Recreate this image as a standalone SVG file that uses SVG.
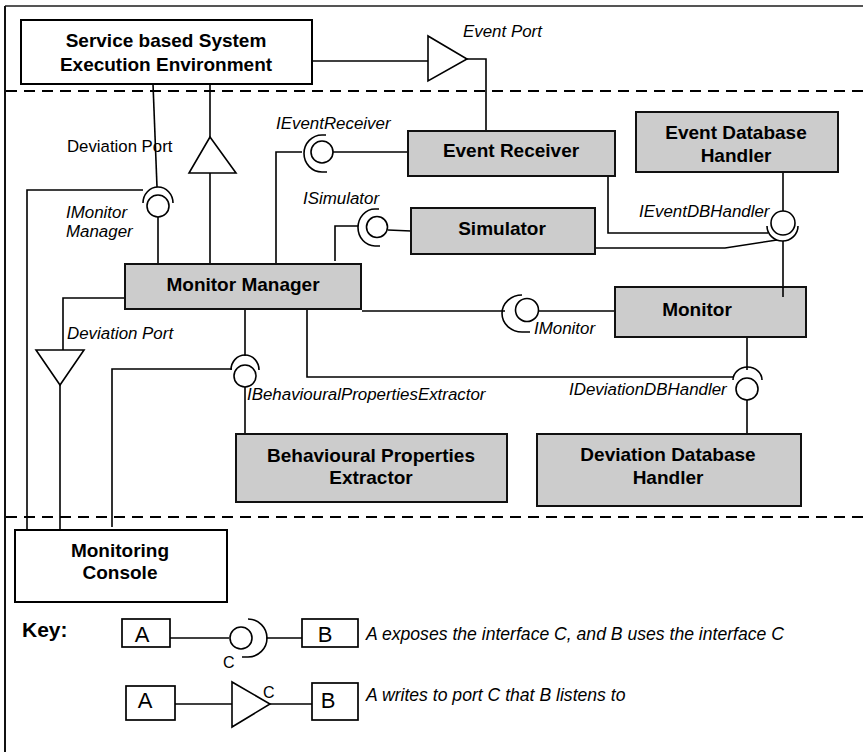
<svg xmlns="http://www.w3.org/2000/svg" width="863" height="752" viewBox="0 0 863 752">
<style>
.box{fill:#fff;stroke:#000;stroke-width:2}
.kbox{fill:#fff;stroke:#000;stroke-width:1.7}
.gbox{fill:#cccccc;stroke:#111;stroke-width:2}
.ln{fill:none;stroke:#000;stroke-width:1.6}
.ifc{fill:#fff;stroke:#000;stroke-width:1.6}
.dash{stroke:#000;stroke-width:2;stroke-dasharray:11 7}
.lbl{font-family:"Liberation Sans",Arial,sans-serif;font-weight:bold;font-size:19px;text-anchor:middle;fill:#000}
.it{font-family:"Liberation Sans",Arial,sans-serif;font-style:italic;font-size:16.9px;fill:#000}
.kit{font-family:"Liberation Sans",Arial,sans-serif;font-style:italic;font-size:17.6px;fill:#000}
.rg{font-family:"Liberation Sans",Arial,sans-serif;font-size:16.8px;fill:#000}
.kc{font-family:"Liberation Sans",Arial,sans-serif;font-size:16px;fill:#000}
.key{font-family:"Liberation Sans",Arial,sans-serif;font-size:22px;text-anchor:middle;fill:#000}
</style>
<rect x="0" y="0" width="863" height="752" fill="#fff"/>
<g id="frame">
<line x1="5" y1="6" x2="863" y2="6" stroke="#555" stroke-width="2"/>
<line x1="5" y1="6" x2="5" y2="752" stroke="#111" stroke-width="2"/>
<line class="dash" x1="6" y1="91" x2="863" y2="91"/>
<line class="dash" x1="6" y1="517" x2="863" y2="517"/>
</g>
<g id="connectors">
<line class="ln" x1="312" y1="61" x2="428" y2="61"/>
<polyline class="ln" points="467,59 486,59 486,131"/>
<line class="ln" x1="153" y1="84" x2="157" y2="187"/>
<line class="ln" x1="210" y1="84" x2="210" y2="137"/>
<line class="ln" x1="210" y1="173" x2="210" y2="264"/>
<polyline class="ln" points="27,530 27,190 143,190"/>
<line class="ln" x1="158" y1="217" x2="158" y2="264"/>
<polyline class="ln" points="276,264 276,152 302,152"/>
<line class="ln" x1="333" y1="152" x2="408" y2="152"/>
<polyline class="ln" points="335,261 335,226 358,226"/>
<line class="ln" x1="388" y1="230" x2="411" y2="231"/>
<line class="ln" x1="783" y1="172" x2="783" y2="211"/>
<polyline class="ln" points="608,176 608,233 768,233"/>
<polyline class="ln" points="595,248 725,248 777,240"/>
<line class="ln" x1="783" y1="241" x2="783" y2="297"/>
<line class="ln" x1="362" y1="311" x2="505" y2="311"/>
<line class="ln" x1="539" y1="311" x2="615" y2="311"/>
<line class="ln" x1="245" y1="309" x2="245" y2="356"/>
<polyline class="ln" points="112,527 112,369 232,369"/>
<line class="ln" x1="245" y1="387" x2="245" y2="434"/>
<line class="ln" x1="747" y1="337" x2="747" y2="370"/>
<polyline class="ln" points="307,309 307,377 733,377"/>
<line class="ln" x1="747" y1="400" x2="747" y2="434"/>
<polyline class="ln" points="125,298 63,298 63,350"/>
<line class="ln" x1="60" y1="385" x2="60" y2="530"/>
</g>
<g id="ports">
<polygon class="ifc" points="428,36 428,81 467,59"/>
<polygon class="ifc" points="210,137 189,173 236,173"/>
<polygon class="ifc" points="36,350 84,350 60,385"/>
</g>
<g id="interfaces">
<g id="IMonitorManager">
<circle class="ifc" cx="158" cy="206" r="11"/>
<path class="ln" d="M143,203 A15,16 0 0 1 173,203"/>
</g>
<g id="IEventReceiver">
<circle class="ifc" cx="322" cy="152" r="11"/>
<path class="ln" d="M326,135 L322,135 A18,18.5 0 0 0 322,172 L327,172"/>
</g>
<g id="ISimulator">
<circle class="ifc" cx="377" cy="227" r="10.5"/>
<path class="ln" d="M379,209 L375,209 A17,18.5 0 0 0 375,246 L380,246"/>
</g>
<g id="IEventDBHandler">
<circle class="ifc" cx="783" cy="223" r="12"/>
<path class="ln" d="M767,226 A15.5,15 0 0 0 798,226"/>
</g>
<g id="IMonitor">
<circle class="ifc" cx="527" cy="310" r="11.5"/>
<path class="ln" d="M522,295 A20,18.5 0 0 0 522,332 L530,332"/>
</g>
<g id="IBehaviouralPropertiesExtractor">
<circle class="ifc" cx="245" cy="376" r="11"/>
<path class="ln" d="M231,370 A14,15 0 0 1 259,370"/>
</g>
<g id="IDeviationDBHandler">
<circle class="ifc" cx="747" cy="389" r="11"/>
<path class="ln" d="M733,380 A14.5,13 0 0 1 762,380"/>
</g>
</g>
<g id="service-env">
<rect class="box" x="21" y="20" width="291" height="64"/>
<text class="lbl" x="166" y="47">Service based System</text>
<text class="lbl" x="166" y="71">Execution Environment</text>
</g>
<g id="event-receiver">
<rect class="gbox" x="408" y="131" width="207" height="45"/>
<text class="lbl" x="511" y="157">Event Receiver</text>
</g>
<g id="event-db-handler">
<rect class="gbox" x="636" y="112" width="202" height="60"/>
<text class="lbl" x="736" y="139">Event Database</text>
<text class="lbl" x="736" y="162">Handler</text>
</g>
<g id="simulator">
<rect class="gbox" x="411" y="208" width="184" height="46"/>
<text class="lbl" x="502" y="235">Simulator</text>
</g>
<g id="monitor-manager">
<rect class="gbox" x="125" y="264" width="236" height="45"/>
<text class="lbl" x="243" y="291">Monitor Manager</text>
</g>
<g id="monitor">
<rect class="gbox" x="615" y="287" width="191" height="50"/>
<text class="lbl" x="697" y="316">Monitor</text>
</g>
<line class="ln" x1="783" y1="287" x2="783" y2="297"/>
<g id="behavioural-properties-extractor">
<rect class="gbox" x="236" y="434" width="271" height="68"/>
<text class="lbl" x="371" y="462">Behavioural Properties</text>
<text class="lbl" x="371" y="484">Extractor</text>
</g>
<g id="deviation-db-handler">
<rect class="gbox" x="537" y="434" width="264" height="72"/>
<text class="lbl" x="668" y="461">Deviation Database</text>
<text class="lbl" x="668" y="484">Handler</text>
</g>
<g id="monitoring-console">
<rect class="box" x="15" y="530" width="212" height="72"/>
<text class="lbl" x="120" y="557">Monitoring</text>
<text class="lbl" x="120" y="579">Console</text>
</g>
<g id="labels">
<text class="it" x="463" y="37">Event Port</text>
<text class="rg" x="67" y="152">Deviation Port</text>
<text class="it" x="276" y="129">IEventReceiver</text>
<text class="it" x="66" y="218">IMonitor</text>
<text class="it" x="66" y="237">Manager</text>
<text class="it" x="303" y="204">ISimulator</text>
<text class="it" x="639" y="217">IEventDBHandler</text>
<text class="it" x="67" y="339">Deviation Port</text>
<text class="it" x="534" y="334">IMonitor</text>
<text class="it" x="247" y="400">IBehaviouralPropertiesExtractor</text>
<text class="it" x="569" y="395">IDeviationDBHandler</text>
</g>
<g id="key">
<text x="22" y="637" font-family="'Liberation Sans',Arial,sans-serif" font-weight="bold" font-size="21">Key:</text>
<rect class="kbox" x="122" y="619" width="48" height="28"/>
<text class="key" x="142" y="642">A</text>
<line class="ln" x1="170" y1="638" x2="229" y2="638"/>
<circle class="ifc" cx="241" cy="638" r="11"/>
<path class="ln" d="M248,619 A19,19 0 0 1 248,657 L242,657"/>
<line class="ln" x1="266" y1="638" x2="302" y2="638"/>
<rect class="kbox" x="302" y="619" width="56" height="28"/>
<text class="key" x="325" y="642">B</text>
<text class="kc" x="223" y="668">C</text>
<text class="kit" x="366" y="640">A exposes the interface C, and B uses the interface C</text>
<rect class="kbox" x="126" y="686" width="49" height="34"/>
<text class="key" x="145" y="708">A</text>
<line class="ln" x1="175" y1="704" x2="232" y2="704"/>
<polygon class="ifc" points="232,682 232,727 270,704"/>
<text class="kc" x="263" y="698">C</text>
<line class="ln" x1="270" y1="704" x2="312" y2="704"/>
<rect class="kbox" x="312" y="683" width="46" height="37"/>
<text class="key" x="328" y="708">B</text>
<text class="kit" x="366" y="701">A writes to port C that B listens to</text>
</g>
</svg>
